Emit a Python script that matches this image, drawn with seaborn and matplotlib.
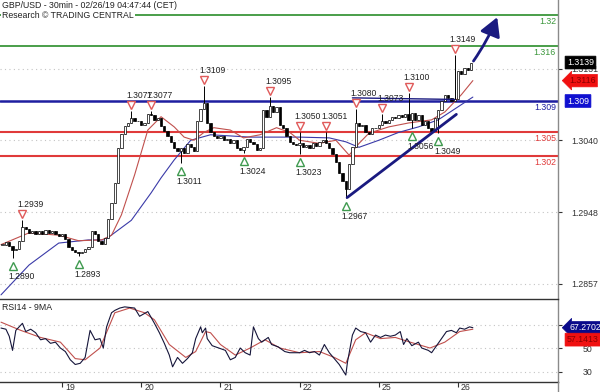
import numpy as np
import pandas as pd
import matplotlib
matplotlib.use("Agg")
import matplotlib.pyplot as plt
import seaborn as sns
from matplotlib import transforms
from matplotlib.patches import FancyArrowPatch
from matplotlib.lines import Line2D

# ---------------- data ----------------
title_line1 = "GBP/USD - 30min - 02/26/19 04:47:44 (CET)"
title_line2 = "Research \u00a9 TRADING CENTRAL"

# hourly closes, hour index relative to Feb 19 00:00 (trading hours only)
t_start = -18
close = [1.2907, 1.2910, 1.2905, 1.2900, 1.2902, 1.2912,
         1.2930, 1.2927, 1.2922, 1.2925, 1.2920, 1.2924, 1.2921, 1.2926, 1.2922, 1.2924, 1.2920, 1.2918,
         1.2920, 1.2914, 1.2904, 1.2900, 1.2898, 1.2896, 1.2898, 1.2901,
         1.2904, 1.2925, 1.2920, 1.2912, 1.2908, 1.2915,
         1.2940, 1.2960, 1.2985, 1.3030, 1.3048, 1.3058,
         1.3062, 1.3068, 1.3064, 1.3065, 1.3060, 1.3062, 1.3074, 1.3072, 1.3066, 1.3068,
         1.3058, 1.3052, 1.3045, 1.3038, 1.3030, 1.3026, 1.3030, 1.3024, 1.3035, 1.3032, 1.3026, 1.3065,
         1.3080, 1.3088, 1.3062, 1.3050, 1.3046, 1.3043,
         1.3046, 1.3040, 1.3042, 1.3036, 1.3040, 1.3030, 1.3028, 1.3032, 1.3042, 1.3038, 1.3035, 1.3028, 1.3030,
         1.3078, 1.3070, 1.3084, 1.3076, 1.3082, 1.3060, 1.3055, 1.3045, 1.3038, 1.3035,
         1.3034, 1.3036, 1.3032, 1.3034, 1.3030, 1.3036, 1.3033, 1.3038, 1.3040, 1.3036,
         1.3030, 1.3022, 1.3012, 1.2998, 1.2988, 1.2978, 1.3010, 1.3032,
         1.3062, 1.3058, 1.3060, 1.3050, 1.3048, 1.3055, 1.3056, 1.3060,
         1.3064, 1.3062, 1.3066, 1.3070, 1.3068, 1.3072, 1.3070, 1.3074, 1.3066, 1.3075,
         1.3066, 1.3072, 1.3060, 1.3064, 1.3056, 1.3052, 1.3068, 1.3078,
         1.3090, 1.3098, 1.3094, 1.3090, 1.3092,
         1.3128, 1.3124, 1.3132, 1.3130, 1.3139]

ma_fast_t = [-18.5, -10, -1, 5, 12, 15, 18, 22, 26, 30, 34, 37, 40, 43, 46, 51, 55, 60, 65, 69,
             72, 78, 83, 87, 90, 93, 99, 105, 112, 116, 121, 124.5]
ma_fast = [1.2907, 1.2922, 1.2919, 1.2912, 1.2913, 1.2919, 1.2945, 1.2996, 1.3053, 1.3070, 1.3057,
           1.3044, 1.3040, 1.3050, 1.3056, 1.3053, 1.3043, 1.3047, 1.3056, 1.3050, 1.3040, 1.3036,
           1.3040, 1.3021, 1.3036, 1.3049, 1.3057, 1.3062, 1.3066, 1.3076, 1.3098, 1.3116]

ma_slow_t = [-18.5, -10, -1, 8, 13, 21, 27, 30, 34, 39, 45, 57, 72, 81, 86, 90, 96, 102, 108, 114, 124.5]
ma_slow = [1.2843, 1.2881, 1.2909, 1.2913, 1.2913, 1.2938, 1.2973, 1.2992, 1.3015, 1.3040, 1.3047,
           1.3044, 1.3044, 1.3043, 1.3038, 1.3031, 1.3040, 1.3050, 1.3057, 1.3066, 1.3095]

levels_green = [1.32, 1.316]
levels_blue = [1.309]
levels_red = [1.305, 1.302]
level_labels = {1.32: "1.32", 1.316: "1.316", 1.309: "1.309", 1.305: "1.305", 1.302: "1.302"}

pivot_hi_t = [-12, 21, 27, 43, 63, 72, 80, 89, 97, 105, 119]
pivot_hi = [1.2939, 1.3077, 1.3077, 1.3109, 1.3095, 1.3050, 1.3051, 1.3080, 1.3073, 1.3100, 1.3149]
pivot_lo_t = [-15, 5, 36, 55, 72, 86, 106, 114]
pivot_lo = [1.2890, 1.2893, 1.3011, 1.3024, 1.3023, 1.2967, 1.3056, 1.3049]

trend_t = [86.4, 119.5]
trend_p = [1.2967, 1.3073]
resist_t = [88, 119]
resist_p = [1.3094, 1.3092]
arrow_t = [124.2, 132.2]
arrow_p = [1.3138, 1.3200]

rsi_t = [-18.5, -17, -16, -15, -14, -12, -11, -9.5, -8, -6.5, -5, -3.5, -2, -0.5, 1, 2.5, 4, 5.5, 7,
         8.5, 10, 11.5, 12.5, 13.5, 15, 16, 17.5, 19, 22, 23.5, 26, 28, 29.5, 31, 32.5, 33.5, 35, 36.5,
         38, 39.5, 40.5, 42, 42.5, 43.5, 44, 45.5, 47.5, 49.5, 51, 52.5, 54, 55.5, 57, 58, 59.5, 60.5,
         62.5, 63.5, 65.5, 67.5, 69, 72, 73.5, 75, 76.5, 78, 79.5, 81, 82.5, 84, 86, 86.5, 88, 89, 90.5,
         92, 93.5, 95, 96.5, 98, 99.5, 101, 102.5, 103.5, 104.5, 106, 108, 109, 111, 112, 113.5, 115,
         116.5, 118, 119.5, 120.5, 122, 123.5, 124.5]
rsi = [67, 66, 60, 48, 65, 71, 64, 66, 63, 57, 58, 54, 55, 50, 47, 40, 36, 37, 42, 65, 57, 58, 50, 68,
       80, 82, 84, 85, 84, 77, 81, 71, 63, 54, 44, 34, 42, 37, 41, 46, 58, 68, 63, 67, 58, 52, 50, 48,
       40, 42, 50, 46, 44, 68, 58, 55, 59, 53, 51, 47, 46, 46, 48, 46, 47, 44, 53, 46, 41, 36, 27, 38,
       61, 67, 64, 63, 55, 61, 59, 61, 60, 61, 64, 53, 58, 52, 55, 50, 48, 46, 52, 58, 64, 65, 63, 67,
       66, 68, 67.27]
rsi_ma_t = [-18.5, -12.5, -6.5, -0.5, 4, 7, 11.5, 16, 20.5, 25, 28, 32.5, 37.5, 40.5, 43.5, 45, 48,
            52.5, 57, 61.5, 66, 72, 78, 82.5, 86, 89, 92, 96.5, 101, 105.5, 111.5, 116, 120.5, 124.5]
rsi_ma = [72, 65, 59, 55, 41, 40, 50, 80, 84, 80, 74, 53, 42, 47, 64, 63, 53, 44, 50, 57, 50, 46, 47,
          42, 37, 57, 63, 58, 59, 55, 50, 55, 64, 66]

last_close = 1.3139
last_ma_fast = 1.3116
last_rsi = 67.2702
last_rsi_ma = 57.1413

day_ticks = [0, 24, 48, 72, 96, 120]
day_labels = ["19", "20", "21", "22", "25", "26"]
price_ticks = [1.3131, 1.3040, 1.2948, 1.2857]
rsi_ticks = [70, 50, 30]

# ---------------- style ----------------
sns.set_theme(style="white")
plt.rcParams["font.family"] = ["Liberation Sans", "DejaVu Sans"]

C_GREEN = "#3a963a"
C_BLUE = "#1e1ea0"
C_NAVY = "#1a1a80"
C_RED = "#e03a3a"
C_TRI_RED = "#e05a5a"
C_TRI_GREEN = "#3f9a4f"
C_GRID = "#c4c4c4"
C_AXIS = "#8a8a8a"
C_TXT = "#333333"

fig = plt.figure(figsize=(6, 3.92), dpi=100)
ax = fig.add_axes([0, 94 / 392, 558 / 600, 298 / 392])
axr = fig.add_axes([0, 10 / 392, 558 / 600, 83 / 392], sharex=ax)

x_lo, x_hi = -18.8, 150.3
ax.set_xlim(x_lo, x_hi)
ax.set_ylim(1.28390, 1.32187)
axr.set_ylim(21.1, 91.7)

# ---------- main panel ----------
ax.set_yticks(price_ticks)
ax.yaxis.grid(True, linestyle=(0, (1, 3)), color=C_GRID, linewidth=0.8)
ax.xaxis.grid(False)

for lv in levels_green:
    ax.axhline(lv, color=C_GREEN, lw=1.3, zorder=2)
for lv in levels_blue:
    ax.axhline(lv, color=C_BLUE, lw=1.8, zorder=2)
for lv in levels_red:
    ax.axhline(lv, color=C_RED, lw=1.5, zorder=2)

lvl_colors = {1.32: C_GREEN, 1.316: C_GREEN, 1.309: C_BLUE, 1.305: C_RED, 1.302: C_RED}
blend = transforms.blended_transform_factory(ax.transAxes, ax.transData)
for lv, lab in level_labels.items():
    ax.annotate(lab, xy=(1.0, lv), xycoords=blend, xytext=(-2, -2), textcoords="offset pixels",
                ha="right", va="top", fontsize=6.3, color=lvl_colors[lv], zorder=5)

# moving averages
df_fast = pd.DataFrame({"t": ma_fast_t, "v": ma_fast})
df_slow = pd.DataFrame({"t": ma_slow_t, "v": ma_slow})
sns.lineplot(data=df_slow, x="t", y="v", ax=ax, color="#3a3aa8", lw=0.8, zorder=3)
sns.lineplot(data=df_fast, x="t", y="v", ax=ax, color="#c0504d", lw=0.8, zorder=3)

# candles (open = previous close)
t_arr = np.arange(t_start, t_start + len(close))
c_arr = np.array(close)
o_arr = np.concatenate([[c_arr[0]], c_arr[:-1]])
hi_arr = np.maximum(o_arr, c_arr)
lo_arr = np.minimum(o_arr, c_arr)
for tt, pp in zip(pivot_hi_t, pivot_hi):
    k = tt - t_start
    hi_arr[k] = max(hi_arr[k], pp)
for tt, pp in zip(pivot_lo_t, pivot_lo):
    k = tt - t_start
    lo_arr[k] = min(lo_arr[k], pp)
ax.vlines(t_arr, lo_arr, hi_arr, color="black", lw=0.7, zorder=4)
up = c_arr >= o_arr
body = np.where(np.abs(c_arr - o_arr) < 0.00008, 0.00008, c_arr - o_arr)
ax.bar(t_arr[up], body[up], bottom=o_arr[up], width=0.7, color="white", edgecolor="black",
       linewidth=0.5, zorder=4)
ax.bar(t_arr[~up], body[~up], bottom=o_arr[~up], width=0.7, color="black", edgecolor="black",
       linewidth=0.5, zorder=4)

# trend line, resistance segment, projection arrow
ax.plot(trend_t, trend_p, color=C_NAVY, lw=2.0, zorder=5, solid_capstyle="round")
ax.plot(resist_t, resist_p, color=C_NAVY, lw=1.0, zorder=5)
arr = FancyArrowPatch((arrow_t[0], arrow_p[0]), (arrow_t[1], arrow_p[1]),
                      connectionstyle="arc3,rad=0.06", arrowstyle="-|>,head_length=0.8,head_width=0.45",
                      mutation_scale=14, color=C_NAVY, lw=2.0, zorder=6)
ax.add_patch(arr)

# pivots
up_off = transforms.ScaledTranslation(0, 6 / 100, fig.dpi_scale_trans)
dn_off = transforms.ScaledTranslation(0, -8 / 100, fig.dpi_scale_trans)
ax.plot(pivot_hi_t, pivot_hi, linestyle="none", marker="v", markersize=6, mfc="white",
        mec=C_TRI_RED, mew=1.0, transform=ax.transData + up_off, zorder=7)
ax.plot(pivot_lo_t, pivot_lo, linestyle="none", marker="^", markersize=6, mfc="white",
        mec=C_TRI_GREEN, mew=1.0, transform=ax.transData + dn_off, zorder=7)
for tt, pp in zip(pivot_hi_t, pivot_hi):
    ax.annotate(f"{pp:.4f}", xy=(tt, pp), xytext=(-5, 11), textcoords="offset pixels",
                ha="left", va="bottom", fontsize=6.2, color="#222222", zorder=7)
for tt, pp in zip(pivot_lo_t, pivot_lo):
    ax.annotate(f"{pp:.4f}", xy=(tt, pp), xytext=(-4, -14), textcoords="offset pixels",
                ha="left", va="top", fontsize=6.2, color="#222222", zorder=7)

# axis styling
ax.yaxis.tick_right()
ax.tick_params(axis="y", which="both", right=True, left=False, length=3, width=0.8,
               color=C_TXT, labelsize=6.3, labelcolor=C_TXT, pad=6.5, direction="out")
ax.yaxis.set_major_formatter(plt.FuncFormatter(lambda v, p: f"{v:.4f}"))
ax.tick_params(axis="x", bottom=False, labelbottom=False)
for s in ["left", "top", "bottom"]:
    ax.spines[s].set_visible(False)
ax.spines["right"].set_color(C_AXIS)
ax.spines["right"].set_linewidth(1.0)
ax.set_xlabel("")
ax.set_ylabel("")

# value tags on the right axis
def tag(axis, value, text, fc, tc, dx, style="round,pad=0.22,rounding_size=0.05"):
    bl = transforms.blended_transform_factory(axis.transAxes, axis.transData)
    axis.annotate(text, xy=(1.0, value), xycoords=bl, xytext=(dx, 0), textcoords="offset pixels",
                  ha="left", va="center", fontsize=6.3, color=tc, annotation_clip=False, zorder=20,
                  bbox=dict(boxstyle=style, fc=fc, ec=fc, lw=0.5))

tag(ax, last_close, "1.3139", "black", "white", 9)
tag(ax, last_ma_fast, "1.3116", "#f01010", "#8a0000", 11, style="larrow,pad=0.2")
tag(ax, levels_blue[0], "1.309", "#1010d0", "white", 9)

# ---------- RSI panel ----------
df_rsi = pd.DataFrame({"t": rsi_t, "v": rsi})
df_rsi_ma = pd.DataFrame({"t": rsi_ma_t, "v": rsi_ma})
axr.set_yticks(rsi_ticks)
axr.yaxis.grid(True, linestyle=(0, (1, 3)), color=C_GRID, linewidth=0.8)
axr.xaxis.grid(False)
sns.lineplot(data=df_rsi_ma, x="t", y="v", ax=axr, color="#c0504d", lw=0.8)
sns.lineplot(data=df_rsi, x="t", y="v", ax=axr, color="#15153a", lw=0.8)
axr.set_xlim(x_lo, x_hi)
axr.set_ylim(21.1, 91.7)
axr.text(2 / 558, 0.90, "RSI14 - 9MA", transform=axr.transAxes, fontsize=6.3, color="#222222",
         ha="left", va="center")

axr.yaxis.tick_right()
axr.tick_params(axis="y", right=True, left=False, length=3, width=0.8, color=C_TXT,
                labelsize=6.3, labelcolor=C_TXT, pad=15, direction="out")
axr.set_xticks(day_ticks)
axr.set_xticklabels(day_labels)
axr.tick_params(axis="x", bottom=True, length=3.5, width=0.8, color=C_TXT, labelsize=6.3,
                labelcolor=C_TXT, pad=-3.0, direction="out")
shift = transforms.ScaledTranslation(3 / 100, 0, fig.dpi_scale_trans)
for lab in axr.get_xticklabels():
    lab.set_horizontalalignment("left")
    lab.set_transform(lab.get_transform() + shift)
axr.spines["left"].set_visible(False)
axr.spines["top"].set_color("#333333")
axr.spines["top"].set_linewidth(1.0)
axr.spines["bottom"].set_color("#333333")
axr.spines["bottom"].set_linewidth(1.0)
axr.spines["right"].set_color(C_AXIS)
axr.spines["right"].set_linewidth(1.0)
axr.set_xlabel("")
axr.set_ylabel("")

tag(axr, last_rsi, "67.2702", "#0a0a8a", "white", 11, style="larrow,pad=0.2")
tag(axr, last_rsi_ma, "57.1413", "#f01010", "#8a0000", 9)

fig.add_artist(Line2D([558 / 600, 558 / 600], [0, 10 / 392], color=C_AXIS, lw=1.0))

# header
fig.text(2 / 600, 1 - 5 / 392, title_line1, fontsize=6.3, color="#222222", ha="left", va="center",
         bbox=dict(boxstyle="square,pad=0.1", fc="white", ec="none"))
fig.text(2 / 600, 1 - 16 / 392, title_line2, fontsize=6.3, color="#222222", ha="left", va="center",
         bbox=dict(boxstyle="square,pad=0.1", fc="white", ec="none"))

fig.savefig("out.png", dpi=100)
